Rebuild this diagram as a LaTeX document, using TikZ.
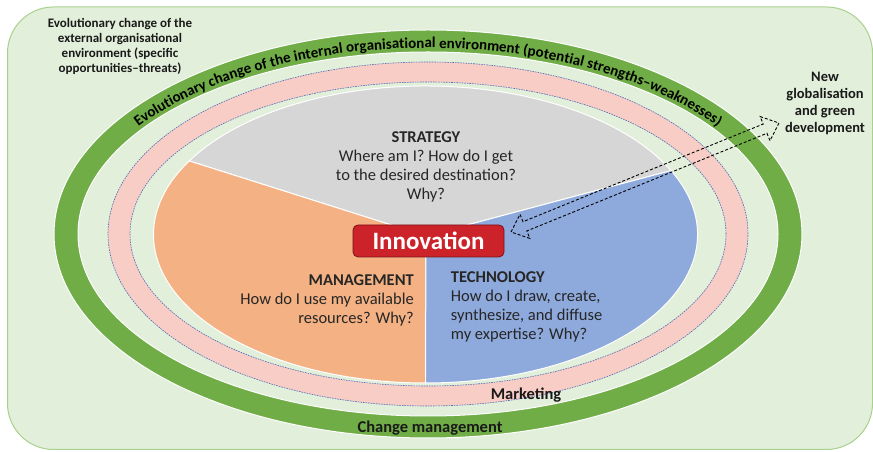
\documentclass[tikz,border=0pt]{standalone}
\usepackage{fontspec}
\setmainfont{Carlito}
\usetikzlibrary{calc,decorations.text}

\definecolor{panelfill}{HTML}{E2EFDA}
\definecolor{panelline}{HTML}{A9D18E}
\definecolor{ringgreen}{HTML}{70AD47}
\definecolor{ringpink}{HTML}{F7CDC6}
\definecolor{ringdash}{HTML}{4F6BB5}
\definecolor{stratgray}{HTML}{D6D6D6}
\definecolor{mgmtorange}{HTML}{F4B183}
\definecolor{techblue}{HTML}{8EA9DB}
\definecolor{innovred}{HTML}{CC2229}
\definecolor{innovedge}{HTML}{7A1418}

\newcommand\ringfont{\bfseries\fontsize{15}{15}\selectfont}

\begin{document}
\begin{tikzpicture}[x=1pt,y=1pt,
  slice/.style={draw=white, line width=1pt},
  ringedge/.style={draw=white, line width=1pt},
  pinkedge/.style={draw=ringdash, line width=0.6pt, dash pattern=on 1.6pt off 1pt},
  blocktext/.style={inner sep=0pt, font=\fontsize{16.5}{18.8}\selectfont, text=black!85},
  outertext/.style={inner sep=0pt, align=center, text=black!90},
  bandtext/.style={inner sep=0pt, font=\bfseries\fontsize{16.5}{16.5}\selectfont, text=black!90},
  innovbox/.style={draw=innovedge, line width=0.8pt, fill=innovred, rounded corners=5pt,
    minimum width=151pt, minimum height=32pt, inner sep=0pt, text=white,
    font=\bfseries\fontsize{25}{25}\selectfont},
  blockarrow/.style={draw=black, line width=0.9pt, dash pattern=on 3pt off 2pt, line join=miter}
]
\useasboundingbox (0,0) rectangle (873,452);
\fill[white] (0,0) rectangle (873,452);

% outer panel: the external environment
\draw[fill=panelfill, draw=panelline, line width=1pt, rounded corners=46pt]
  (7.5,2.5) rectangle (872.5,445);

% centres of the rings and of the pie
\coordinate (C) at (428,218);
\coordinate (P) at (425.5,217.5);
\coordinate (V) at (426,216);

% green ring: internal environment / change management
\fill[ringgreen, even odd rule]
  (C) ellipse[x radius=374, y radius=204]
  (C) ellipse[x radius=350, y radius=182];
\draw[ringedge] (C) ellipse[x radius=374, y radius=204];
\draw[ringedge] (C) ellipse[x radius=350, y radius=182];

% pink ring: marketing
\fill[ringpink, even odd rule]
  (C) ellipse[x radius=320, y radius=172]
  (C) ellipse[x radius=298, y radius=152];
\draw[pinkedge] (C) ellipse[x radius=320, y radius=172];
\draw[pinkedge] (C) ellipse[x radius=298, y radius=152];

% pie: strategy, management, technology
\coordinate (L) at ($(P)+(150.3:272 and 148.5)$);
\coordinate (R) at ($(P)+(25.5:272 and 148.5)$);
\coordinate (B) at ($(P)+(270:272 and 148.5)$);
\filldraw[slice, fill=stratgray] (V) -- (L)
  arc[start angle=150.3, end angle=25.5, x radius=272, y radius=148.5] -- cycle;
\filldraw[slice, fill=mgmtorange] (V) -- (B)
  arc[start angle=270, end angle=150.3, x radius=272, y radius=148.5] -- cycle;
\filldraw[slice, fill=techblue] (V) -- (R)
  arc[start angle=25.5, end angle=-90, x radius=272, y radius=148.5] -- cycle;

% text running along the green ring
\path[decorate, decoration={text along path, text align=center,
  text={|\ringfont|Evolutionary change of the internal organisational environment (potential strengths–weaknesses)}}]
  ($(C)+(168:354 and 186)$) arc[start angle=168, end angle=12, x radius=354, y radius=186];

% labels
\node[bandtext, anchor=base] (change) at (430,19.3) {Change management};
\node[bandtext, anchor=base] (marketing) at (526,52) {Marketing};

\node[outertext, anchor=north, font=\bfseries\fontsize{13}{14.7}\selectfont] (external) at (120,433.4)
  {Evolutionary change of the\\external organisational\\environment (specific\\opportunities–threats)};
\node[outertext, anchor=north, font=\bfseries\fontsize{14.5}{17}\selectfont] (global) at (825,379.6)
  {New\\globalisation\\and green\\development};

\node[blocktext, align=center, anchor=north] (strategy) at (426,320.3)
  {\textbf{STRATEGY}\\Where am I? How do I get\\to the desired destination?\\Why?};
\node[blocktext, align=right, anchor=north east] (management) at (414,177.6)
  {\textbf{MANAGEMENT}\\How do I use my available\\resources? Why?};
\node[blocktext, align=left, anchor=north west] (technology) at (450.7,180.3)
  {\textbf{TECHNOLOGY}\\How do I draw, create,\\synthesize, and diffuse\\my expertise? Why?};

\node[innovbox] (innov) at (428.5,211) {Innovation};

% dashed double block arrow between innovation and the new environment
\coordinate (arrL) at (511,220);
\coordinate (arrR) at (779,329);
\draw[blockarrow] let \p1=($(arrR)-(arrL)$), \n1={atan2(\y1,\x1)}, \n2={veclen(\x1,\y1)} in
  [shift={(arrL)}, rotate=\n1]
  (0,0) -- (15,13) -- (15,5) -- (\n2-15,5) -- (\n2-15,13) -- (\n2,0)
  -- (\n2-15,-13) -- (\n2-15,-5) -- (15,-5) -- (15,-13) -- cycle;
\end{tikzpicture}
\end{document}
